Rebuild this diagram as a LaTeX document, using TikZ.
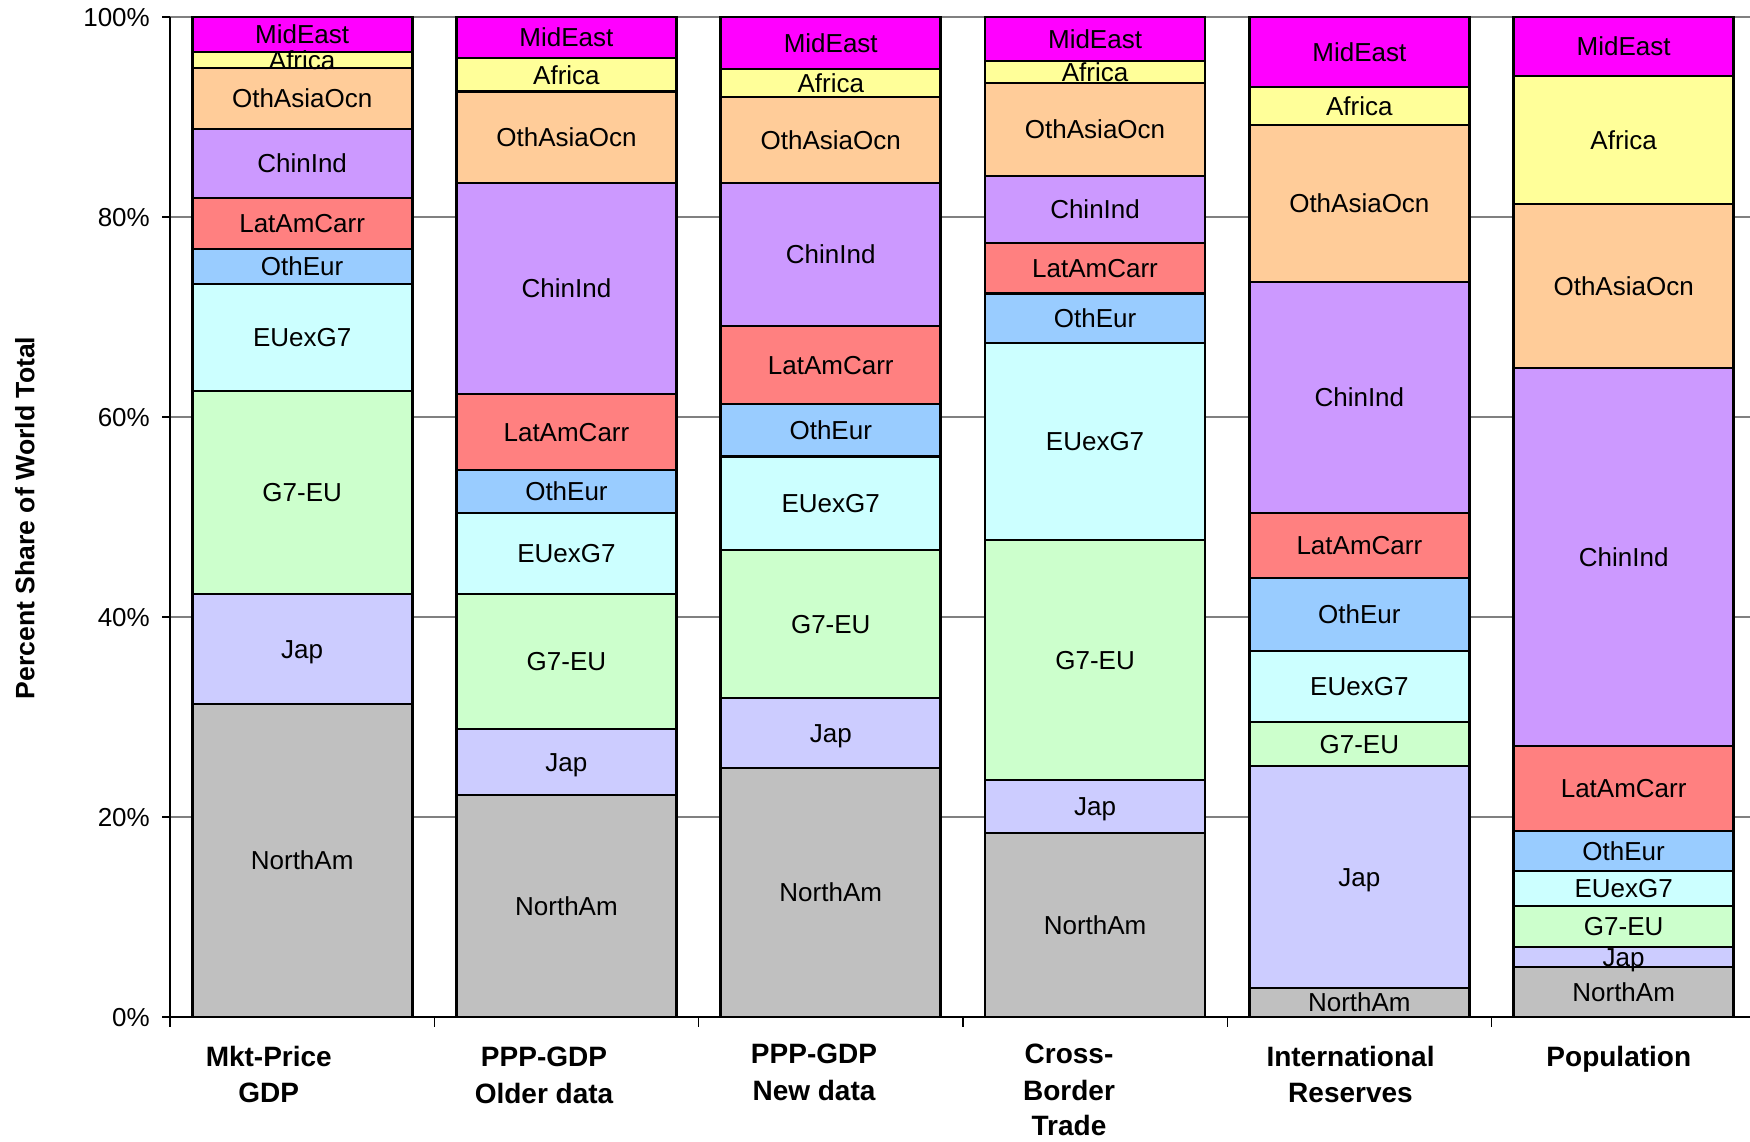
\documentclass[tikz,border=0pt]{standalone}
\usepackage{fontspec}
\setmainfont{Liberation Sans}
\definecolor{cN}{HTML}{C0C0C0}
\definecolor{cJ}{HTML}{CCCCFF}
\definecolor{cG}{HTML}{CCFFCC}
\definecolor{cE}{HTML}{CCFFFF}
\definecolor{cO}{HTML}{99CCFF}
\definecolor{cL}{HTML}{FF8080}
\definecolor{cC}{HTML}{CC99FF}
\definecolor{cA}{HTML}{FFCC99}
\definecolor{cF}{HTML}{FFFF99}
\definecolor{cM}{HTML}{FF00FF}
\definecolor{gridgray}{HTML}{808080}
\def\barA{31.3/N/NorthAm,42.3/J/Jap,62.6/G/G7-EU,73.3/E/EUexG7,76.8/O/OthEur,81.9/L/LatAmCarr,88.8/C/ChinInd,94.9/A/OthAsiaOcn,96.5/F/Africa,100/M/MidEast}
\def\barB{22.2/N/NorthAm,28.8/J/Jap,42.3/G/G7-EU,50.4/E/EUexG7,54.7/O/OthEur,62.3/L/LatAmCarr,83.4/C/ChinInd,92.55/A/OthAsiaOcn,95.9/F/Africa,100/M/MidEast}
\def\barC{24.9/N/NorthAm,31.9/J/Jap,46.7/G/G7-EU,56.05/E/EUexG7,61.3/O/OthEur,69.1/L/LatAmCarr,83.4/C/ChinInd,92.0/A/OthAsiaOcn,94.8/F/Africa,100/M/MidEast}
\def\barD{18.4/N/NorthAm,23.7/J/Jap,47.7/G/G7-EU,67.4/E/EUexG7,72.35/O/OthEur,77.4/L/LatAmCarr,84.1/C/ChinInd,93.4/A/OthAsiaOcn,95.6/F/Africa,100/M/MidEast}
\def\barE{2.9/N/NorthAm,25.1/J/Jap,29.5/G/G7-EU,36.6/E/EUexG7,43.9/O/OthEur,50.4/L/LatAmCarr,73.5/C/ChinInd,89.2/A/OthAsiaOcn,93.0/F/Africa,100/M/MidEast}
\def\barF{5.0/N/NorthAm,7.0/J/Jap,11.1/G/G7-EU,14.6/E/EUexG7,18.6/O/OthEur,27.1/L/LatAmCarr,64.9/C/ChinInd,81.3/A/OthAsiaOcn,94.1/F/Africa,100/M/MidEast}
\begin{document}
\begin{tikzpicture}[x=1pt,y=-1pt,
  seglab/.style={font=\fontsize{26}{30}\selectfont, anchor=base, inner sep=0pt},
  ticklab/.style={font=\fontsize{26}{30}\selectfont, anchor=base east, inner sep=0pt},
  catlab/.style={font=\fontsize{28}{34}\selectfont\bfseries, anchor=base, inner sep=0pt},
  ytitle/.style={font=\fontsize{26.6}{32}\selectfont\bfseries, anchor=base, inner sep=0pt, rotate=90},
  gridline/.style={draw=gridgray, line width=1.5pt},
  axisline/.style={draw=black, line width=1.8pt},
  segedge/.style={draw=black, line width=2.7pt, line join=miter}]
\useasboundingbox (0,0) rectangle (1750,1142);
% gridlines
\foreach \p in {20,40,60,80,100}
  \draw[gridline] (170,{1017-10*\p}) -- (1750,{1017-10*\p});
% bars
\foreach \b in {1,...,6}{
  \ifcase\b\or\global\let\curlist\barA\or\global\let\curlist\barB\or\global\let\curlist\barC
    \or\global\let\curlist\barD\or\global\let\curlist\barE\or\global\let\curlist\barF\fi
  \pgfmathsetmacro{\xl}{170+264.3*(\b-1)+22.15}
  \pgfmathsetmacro{\xr}{\xl+220}
  \pgfmathsetmacro{\xc}{\xl+110}
  \foreach \t/\k/\s [remember=\t as \p (initially 0)] in \curlist {
    \fill[c\k] (\xl,{1017-10*\p}) rectangle (\xr,{1017-10*\t});
  }
  \foreach \t/\k/\s [remember=\t as \p (initially 0)] in \curlist {
    \node[seglab] (lab\b\k) at (\xc,{1017-5*(\t+\p)+9.3}) {\s};
  }
  \foreach \t/\k/\s [remember=\t as \p (initially 0)] in \curlist {
    \draw[segedge] (\xl,{1017-10*\p}) rectangle (\xr,{1017-10*\t});
  }
}
% axes
\draw[axisline] (170,17) -- (170,1026.7);
\draw[axisline] (170,1017) -- (1750,1017);
\foreach \p in {0,20,40,60,80,100}{
  \draw[axisline, line width=1.4pt] (162,{1017-10*\p}) -- (170,{1017-10*\p});
  \node[ticklab] (tick\p) at (150,{1017-10*\p+9.3}) {\p\%};
}
\foreach \i in {1,...,5}
  \draw[axisline, line width=1.4pt] ({170+264.3*\i},1017) -- ({170+264.3*\i},1026.7);
% category labels
\node[catlab] (c1a) at (268.8,1066.7) {Mkt-Price};
\node[catlab] (c1b) at (268.8,1102.7) {GDP};
\node[catlab] (c2a) at (544,1066.7) {PPP-GDP};
\node[catlab] (c2b) at (544,1103) {Older data};
\node[catlab] (c3a) at (814,1063.3) {PPP-GDP};
\node[catlab] (c3b) at (814,1100.5) {New data};
\node[catlab] (c4a) at (1069,1063.3) {Cross-};
\node[catlab] (c4b) at (1069,1100.5) {Border};
\node[catlab] (c4c) at (1069,1135) {Trade};
\node[catlab] (c5a) at (1350.5,1066.7) {International};
\node[catlab] (c5b) at (1350.5,1102.7) {Reserves};
\node[catlab] (c6a) at (1618.8,1066.7) {Population};
% y title
\node[ytitle] (ytit) at (34.3,518) {Percent Share of World Total};
\end{tikzpicture}
\end{document}
